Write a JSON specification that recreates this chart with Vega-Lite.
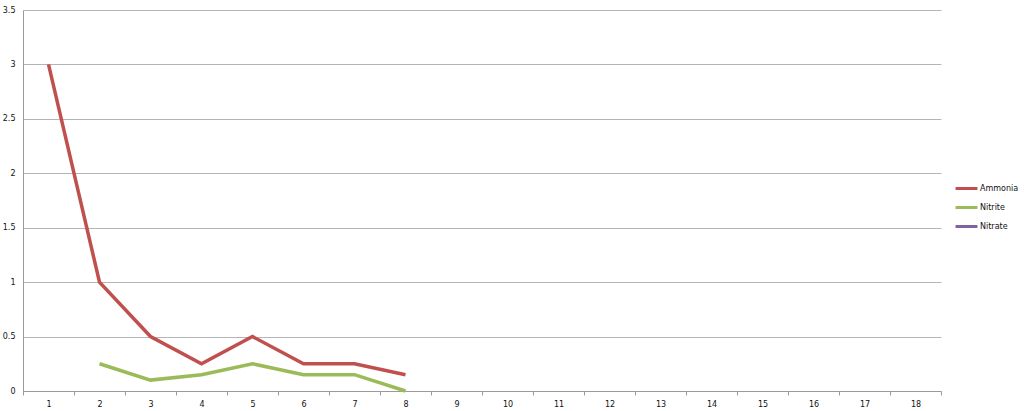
{
  "$schema": "https://vega.github.io/schema/vega-lite/v6.json",
  "width": 918,
  "height": 381,
  "autosize": {"type": "none"},
  "padding": {"left": 23, "top": 10, "right": 83, "bottom": 20},
  "background": "white",
  "config": {
    "view": {"stroke": null},
    "font": "DejaVu Sans",
    "axis": {"labelFont": "DejaVu Sans", "labelFontSize": 8, "labelColor": "#111111", "title": null}
  },
  "data": {
    "values": [
      {"day": 1, "series": "Ammonia", "value": 3},
      {"day": 2, "series": "Ammonia", "value": 1},
      {"day": 3, "series": "Ammonia", "value": 0.5},
      {"day": 4, "series": "Ammonia", "value": 0.25},
      {"day": 5, "series": "Ammonia", "value": 0.5},
      {"day": 6, "series": "Ammonia", "value": 0.25},
      {"day": 7, "series": "Ammonia", "value": 0.25},
      {"day": 8, "series": "Ammonia", "value": 0.15},
      {"day": 2, "series": "Nitrite", "value": 0.25},
      {"day": 3, "series": "Nitrite", "value": 0.1},
      {"day": 4, "series": "Nitrite", "value": 0.15},
      {"day": 5, "series": "Nitrite", "value": 0.25},
      {"day": 6, "series": "Nitrite", "value": 0.15},
      {"day": 7, "series": "Nitrite", "value": 0.15},
      {"day": 8, "series": "Nitrite", "value": 0}
    ]
  },
  "mark": {"type": "line", "strokeWidth": 3.5, "strokeJoin": "miter"},
  "encoding": {
    "x": {
      "field": "day",
      "type": "ordinal",
      "scale": {"type": "band", "domain": [1,2,3,4,5,6,7,8,9,10,11,12,13,14,15,16,17,18], "paddingInner": 0, "paddingOuter": 0},
      "axis": {
        "labelAngle": 0,
        "tickBand": "extent",
        "tickSize": 4,
        "tickColor": "#9a9a9a",
        "domainColor": "#9a9a9a",
        "labelPadding": 5,
        "grid": false
      }
    },
    "y": {
      "field": "value",
      "type": "quantitative",
      "scale": {"domain": [0, 3.5], "nice": false},
      "axis": {
        "values": [0, 0.5, 1, 1.5, 2, 2.5, 3, 3.5],
        "format": "~g",
        "ticks": false,
        "labelPadding": 8,
        "domainColor": "#9a9a9a",
        "gridColor": "#b5b5b5",
        "gridWidth": 1
      }
    },
    "color": {
      "field": "series",
      "type": "nominal",
      "scale": {"domain": ["Ammonia", "Nitrite", "Nitrate"], "range": ["#c0504d", "#9bbb59", "#8064a2"]},
      "legend": {
        "title": null,
        "orient": "none",
        "legendX": 931,
        "legendY": 166,
        "symbolType": "stroke",
        "symbolSize": 480,
        "symbolStrokeWidth": 3,
        "labelFont": "DejaVu Sans",
        "labelFontSize": 8,
        "labelColor": "#111111",
        "rowPadding": 0,
        "labelOffset": 1
      }
    }
  }
}
